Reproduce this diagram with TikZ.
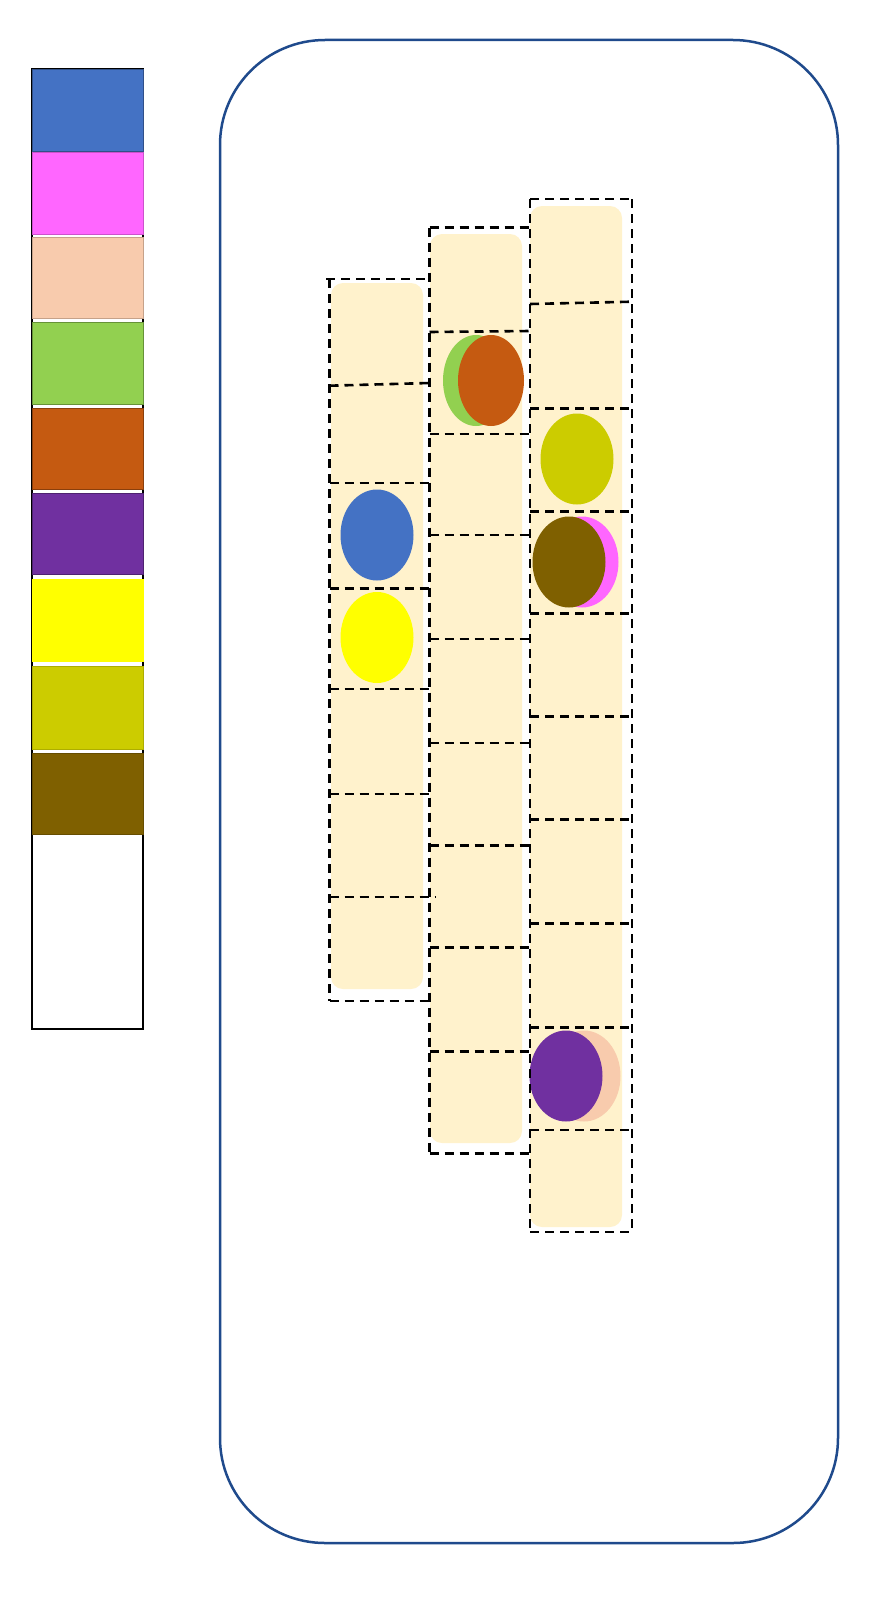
\documentclass[tikz,border=0pt]{standalone}
\usepackage{tikz}
\definecolor{cblue}{HTML}{4472C4}
\definecolor{cmag}{HTML}{FF66FF}
\definecolor{cpeach}{HTML}{F8CBAD}
\definecolor{cgreen}{HTML}{92D050}
\definecolor{corange}{HTML}{C55A11}
\definecolor{cpurple}{HTML}{7030A0}
\definecolor{cyellow}{HTML}{FFFF00}
\definecolor{colive}{HTML}{CCCC00}
\definecolor{cbrown}{HTML}{7F6000}
\definecolor{ccream}{HTML}{FFF2CC}
\definecolor{cframe}{RGB}{31,74,140}
\tikzset{
  x=1pt, y=-1pt,
  frame/.style={draw=cframe, line width=2.5pt, rounded corners=105pt},
  legborder/.style={draw=black, line width=1.2pt},
  legcell/.style={line width=0.6pt},
  creamcol/.style={fill=ccream, rounded corners=12pt},
  cellline/.style={draw=black, line width=2.6pt, dash pattern=on 9pt off 6pt},
  dot/.style={x radius=36.5pt, y radius=45.5pt},
}
\begin{document}
\begin{tikzpicture}
\useasboundingbox (0,0) rectangle (872,1600);
\fill[white] (0,0) rectangle (872,1600);

% legend
\draw[legborder] (32,69) rectangle (143,1029);
\filldraw[legcell, fill=cblue, draw=cblue!70!black] (32,69) rectangle (143,151);
\filldraw[legcell, fill=cmag, draw=cmag!80!black] (32,152.5) rectangle (143,234);
\filldraw[legcell, fill=cpeach, draw=cpeach!80!black] (32,237) rectangle (143,318);
\filldraw[legcell, fill=cgreen, draw=cgreen!70!black] (32,322) rectangle (143,404);
\filldraw[legcell, fill=corange, draw=corange!70!black] (32,408) rectangle (143,489);
\filldraw[legcell, fill=cpurple, draw=cpurple!70!black] (32,493) rectangle (143,574);
\filldraw[legcell, fill=cyellow, draw=cyellow] (32,579) rectangle (143,661);
\filldraw[legcell, fill=colive, draw=colive!85!black] (32,666) rectangle (143,749);
\filldraw[legcell, fill=cbrown, draw=cbrown!80!black] (32,753) rectangle (143,834);

% outer frame
\draw[frame] (220,40) rectangle (838,1543);

% cream columns
\fill[creamcol] (331,283) rectangle (423,989);
\fill[creamcol] (430,234) rectangle (522,1143);
\fill[creamcol] (530,206) rectangle (622,1227);

% discs
\fill[cblue] (377,535) ellipse [dot];
\fill[cyellow] (377,637.5) ellipse [dot];
\fill[cgreen] (476,380.5) ellipse [x radius=33pt, y radius=45.5pt];
\fill[corange] (491,380.5) ellipse [x radius=33pt, y radius=45.5pt];
\fill[colive] (577,459) ellipse [dot];
\fill[cmag] (582,562) ellipse [dot];
\fill[cbrown] (569,562) ellipse [dot];
\fill[cpeach] (584,1076) ellipse [dot];
\fill[cpurple] (566,1076) ellipse [dot];

% dashed verticals
\draw[cellline] (329.5,279) -- (329.5,1001);
\draw[cellline] (429.5,227.5) -- (429.5,1153.5);
\draw[cellline] (530,199) -- (530,1232);
\draw[cellline] (632,199) -- (632,1232);

% column 1 horizontals
\draw[cellline] (326,279) -- (429.5,279);
\draw[cellline] (329.5,385.7) -- (429.5,383);
\draw[cellline] (329.5,483) -- (429.5,483);
\draw[cellline] (329.5,588.5) -- (429.5,588.5);
\draw[cellline] (329.5,689) -- (429.5,689);
\draw[cellline] (329.5,794) -- (429.5,794);
\draw[cellline] (329.5,897) -- (435,897);
\draw[cellline] (329.5,1001) -- (429.5,1001);

% column 2 horizontals
\draw[cellline] (429.5,227.5) -- (530,227.5);
\draw[cellline] (429.5,332) -- (530,331);
\draw[cellline] (429.5,434) -- (530,434);
\draw[cellline] (429.5,535) -- (530,535);
\draw[cellline] (429.5,639) -- (530,639);
\draw[cellline] (429.5,743) -- (530,743);
\draw[cellline] (429.5,845.5) -- (530,845.5);
\draw[cellline] (429.5,947.5) -- (530,947.5);
\draw[cellline] (429.5,1051.5) -- (530,1051.5);
\draw[cellline] (429.5,1153.5) -- (530,1153.5);

% column 3 horizontals
\draw[cellline] (530,199) -- (632,199);
\draw[cellline] (530,304) -- (632,301.7);
\draw[cellline] (530,408.5) -- (632,408.5);
\draw[cellline] (530,511.5) -- (632,511.5);
\draw[cellline] (530,613.5) -- (632,613.5);
\draw[cellline] (530,716.5) -- (632,716.5);
\draw[cellline] (530,819.5) -- (632,819.5);
\draw[cellline] (530,923.5) -- (632,923.5);
\draw[cellline] (530,1027.5) -- (632,1027.5);
\draw[cellline] (530,1130) -- (632,1130);
\draw[cellline] (530,1232) -- (632,1232);
\end{tikzpicture}
\end{document}
